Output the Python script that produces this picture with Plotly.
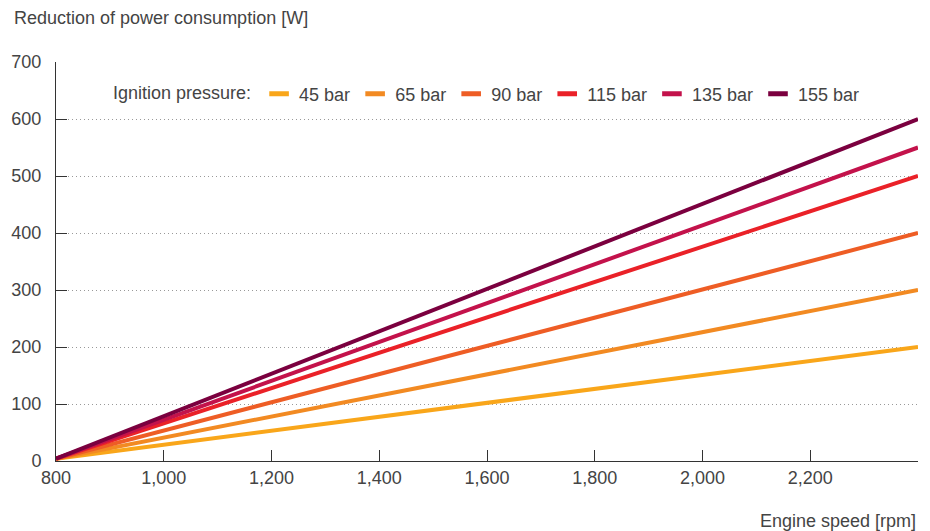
import plotly.graph_objects as go

engine_speed = [800, 2400]
pressures = ["45 bar", "65 bar", "90 bar", "115 bar", "135 bar", "155 bar"]
reduction_45 = [4, 200]
reduction_65 = [4, 300]
reduction_90 = [4, 400]
reduction_115 = [4, 500]
reduction_135 = [4, 550]
reduction_155 = [4, 600]
series = [reduction_45, reduction_65, reduction_90, reduction_115, reduction_135, reduction_155]
colors = ["#F9A61A", "#F28A22", "#EE5D25", "#EA2128", "#C3124B", "#7B003F"]

x_tickvals = [800, 1000, 1200, 1400, 1600, 1800, 2000, 2200, 2400]
x_ticktext = ["800", "1,000", "1,200", "1,400", "1,600", "1,800", "2,000", "2,200", ""]
y_tickvals = [0, 100, 200, 300, 400, 500, 600, 700]

FONT = "Liberation Sans, Arial, sans-serif"
TXT = "#444444"
FS = 18

# page has an 8px body margin: figure is placed at (8, 8)
W, H = 922, 523
L, T, R, B = 48, 54, 12, 70
PW, PH = W - L - R, H - T - B

fig = go.Figure()
for name, vals, c in zip(pressures, series, colors):
    fig.add_trace(go.Scatter(x=engine_speed, y=vals, mode="lines", name=name,
                             line=dict(color=c, width=4), showlegend=False,
                             hoverinfo="skip"))
for name, c in zip(pressures, colors):
    fig.add_trace(go.Scatter(x=[None], y=[None], mode="markers", name=name,
                             marker=dict(symbol="line-ew", size=14, color=c,
                                         line=dict(color=c, width=5)),
                             showlegend=True))

fig.update_layout(
    width=W, height=H,
    margin=dict(l=L, r=R, t=T, b=B, autoexpand=False),
    paper_bgcolor="white", plot_bgcolor="white",
    font=dict(family=FONT, size=FS, color=TXT),
    legend=dict(orientation="h", x=(111 - 56) / PW, y=(461 - 94) / PH,
                xanchor="left", yanchor="middle",
                title=dict(text="Ignition pressure:", side="left", font=dict(size=FS, color=TXT)),
                font=dict(size=FS, color=TXT), bgcolor="rgba(0,0,0,0)",
                itemwidth=30, tracegroupgap=0),
    xaxis=dict(range=[800, 2400], tickvals=x_tickvals, ticktext=x_ticktext,
               showgrid=False, zeroline=False, showline=True, linecolor="#333333",
               linewidth=1, ticks="inside", ticklen=11, tickcolor="#333333",
               tickfont=dict(size=FS, color=TXT), ticklabelstandoff=0,
               automargin=False),
    yaxis=dict(range=[0, 700], tickvals=y_tickvals, showgrid=True,
               gridcolor="#999999", griddash="1px,3px", gridwidth=1,
               zeroline=False, showline=True, linecolor="#333333", linewidth=1,
               ticks="inside", ticklen=11, tickcolor="#333333",
               tickfont=dict(size=FS, color=TXT), ticklabelstandoff=10,
               automargin=False),
    annotations=[
        dict(text="Reduction of power consumption [W]", xref="paper", yref="paper",
             x=(12 - 56) / PW, y=1 + (62 - 18) / PH, xanchor="left", yanchor="middle",
             showarrow=False, font=dict(size=FS, color=TXT)),
        dict(text="Engine speed [rpm]", xref="paper", yref="paper",
             x=1, y=-(521 - 461) / PH, xanchor="right", yanchor="middle",
             showarrow=False, font=dict(size=FS, color=TXT)),
    ],
)
fig.write_html("out.html")
